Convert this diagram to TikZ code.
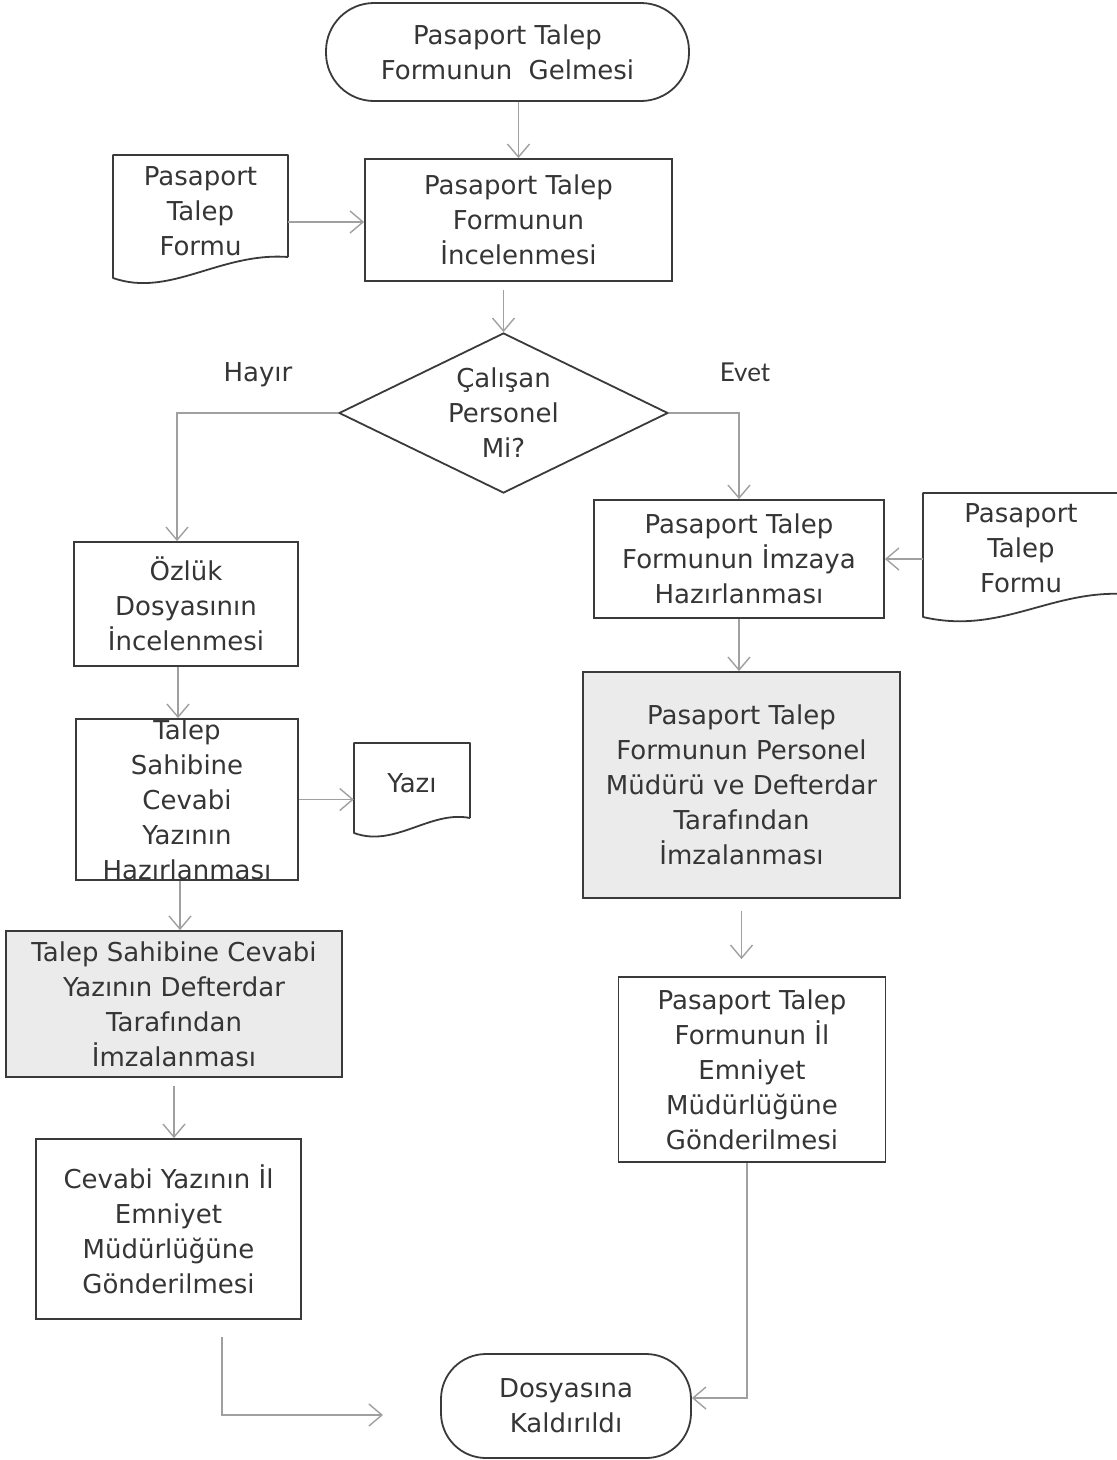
\documentclass[tikz,border=0pt]{standalone}
\usepackage{fontspec}
\setmainfont{DejaVu Sans}
\newfontfamily\evetfont{Lato}
\usetikzlibrary{arrows.meta,shapes.geometric}
\definecolor{edgec}{HTML}{3A3A3A}
\definecolor{connc}{HTML}{A0A0A0}
\definecolor{txtc}{HTML}{353535}
\definecolor{shadec}{HTML}{EBEBEB}
\begin{document}
\begin{tikzpicture}[x=1pt,y=-1pt,
  every node/.style={font=\fontsize{26}{35}\selectfont,text=txtc,align=center},
  box/.style={draw=edgec,line width=1.8pt,inner sep=0pt},
  greybox/.style={box,fill=shadec},
  docshape/.style={draw=edgec,line width=1.8pt,line join=round},
  flow/.style={draw=connc,line width=1.4pt,-{Straight Barb[length=13pt,width=22pt]}},
]
\useasboundingbox (0,0) rectangle (1117,1460);

% top
\node[box,rounded corners=48pt,minimum width=363pt,minimum height=98pt] (start) at (507.5,52) {Pasaport Talep\\Formunun\ \ Gelmesi};
\node[box,minimum width=307pt,minimum height=122pt] (inc) at (518.5,220) {Pasaport Talep\\Formunun\\İncelenmesi};

\draw[docshape] (288,257) -- (288,155) -- (113,155) -- (113,278) .. controls (170,298) and (220,252) .. (288,257);
\node[inner sep=0pt,minimum width=175pt,minimum height=112pt] (doc1) at (200.5,211) {Pasaport\\Talep\\Formu};

\node[box,diamond,shape aspect=2.06,minimum width=329pt,minimum height=160pt] (dec) at (503.5,413) {Çalışan\\Personel\\Mi?};

\node (hayir) at (258,375) {Hayır};
\node[font=\evetfont\fontsize{26}{30}\selectfont] (evet) at (745,372) {Evet};

% left column
\node[box,minimum width=224pt,minimum height=124pt] (ozluk) at (186,604) {Özlük\\Dosyasının\\İncelenmesi};
\node[box,minimum width=222pt,minimum height=161pt,label={center:{Talep\\Sahibine\\Cevabi\\Yazının\\Hazırlanması}}] (cevhaz) at (187,799.5) {};
\node[greybox,minimum width=336pt,minimum height=146pt] (sign1) at (174,1004) {Talep Sahibine Cevabi\\Yazının Defterdar\\Tarafından\\İmzalanması};
\node[box,minimum width=265pt,minimum height=180pt] (cevap) at (168.5,1229) {Cevabi Yazının İl\\Emniyet\\Müdürlüğüne\\Gönderilmesi};

\draw[docshape] (470,818) -- (470,743) -- (354,743) -- (354,833) .. controls (395,848) and (430,810) .. (470,818);
\node[inner sep=0pt,minimum width=116pt,minimum height=80pt] (yazi) at (412,783) {Yazı};

% right column
\node[box,minimum width=290pt,minimum height=118pt] (imza) at (739,559) {Pasaport Talep\\Formunun İmzaya\\Hazırlanması};
\draw[docshape] (1125,594) -- (1125,493) -- (923,493) -- (923,617) .. controls (1000,635) and (1050,590) .. (1125,594);
\node[inner sep=0pt,minimum width=196pt,minimum height=110pt] (doc2) at (1021,548) {Pasaport\\Talep\\Formu};
\node[greybox,minimum width=317pt,minimum height=226pt] (sign2) at (741.5,785) {Pasaport Talep\\Formunun Personel\\Müdürü ve Defterdar\\Tarafından\\İmzalanması};
\node[box,minimum width=267pt,minimum height=185pt] (ilgon) at (752,1069.5) {Pasaport Talep\\Formunun İl\\Emniyet\\Müdürlüğüne\\Gönderilmesi};

\node[box,rounded corners=45pt,minimum width=250pt,minimum height=104pt] (end) at (566,1406) {Dosyasına\\Kaldırıldı};

% connectors
\draw[flow] (start.south -| inc.north) -- (inc.north);
\draw[flow] ([yshift=-8pt]inc.south -| dec.north) -- (dec.north);
\draw[flow] ([yshift=-11pt]doc1.east) -- ([yshift=-11pt]doc1.east -| inc.west);
\draw[flow] (dec.west) -| ([xshift=-9pt]ozluk.north);
\draw[flow] ([xshift=-8pt]ozluk.south) -- ([xshift=-8pt]ozluk.south |- cevhaz.north);
\draw[flow] ([xshift=-7pt]cevhaz.south) -- ([xshift=-7pt]cevhaz.south |- sign1.north);
\draw[flow] ([yshift=-8pt]sign1.south) -- (sign1.south |- cevap.north);
\draw[flow] (cevhaz.east) -- (cevhaz.east -| yazi.west);
\coordinate (c1) at (222,1337);
\coordinate (c2) at (383,1415);
\draw[flow] (c1) |- (c2);

\draw[flow] (dec.east) -| (imza.north);
\draw[flow] (doc2.west |- imza.east) -- (imza.east);
\draw[flow] (imza.south) -- (imza.south |- sign2.north);
\draw[flow] ([yshift=-12pt]sign2.south) -- ([yshift=17pt]sign2.south |- ilgon.north);
\draw[flow] ([xshift=-5pt]ilgon.south) |- ([yshift=8pt]end.east);
\end{tikzpicture}
\end{document}
